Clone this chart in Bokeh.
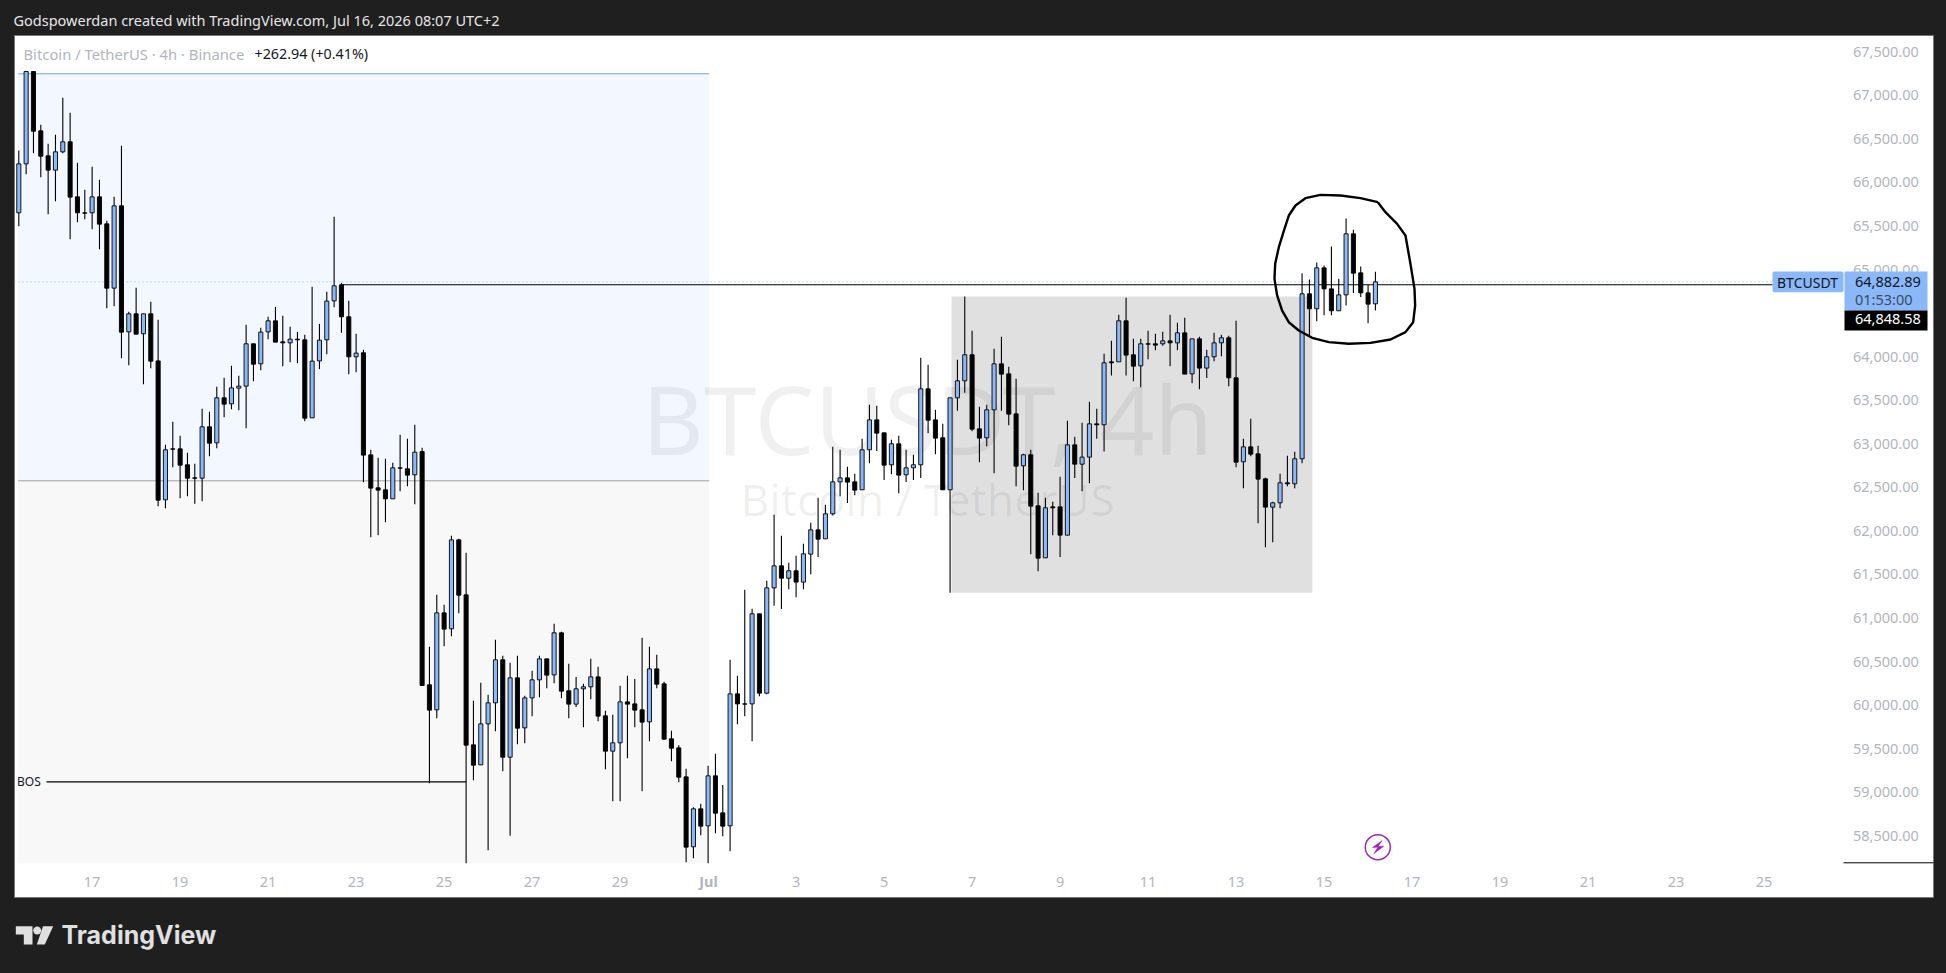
import math
from bokeh.plotting import figure
from bokeh.embed import file_html
from bokeh.resources import INLINE
from bokeh.core.properties import value
from bokeh.models import LinearAxis, FixedTicker, NumeralTickFormatter, Label, BoxAnnotation, PolyAnnotation, Range1d

opens = [65675,66237,67297,66616,66329,66165,66375,66490,65858,65675,65675,65858,65548,64810,65755,64308,64515,64286,64515,63975,
62380,62965,62965,62782,62632,62628,63218,63034,63551,63482,63662,63685,64171,63941,64308,64435,64194,64182,64224,64217,
63321,63975,64217,64664,64848,64481,64022,64068,62896,62518,62495,62391,62747,62736,62667,62934,60256,59969,61082,60899,
61920,61289,59567,59337,59808,60049,60543,59425,60336,59762,60106,60313,60554,60370,60853,60187,60034,60210,60233,60347,
59900,59494,59590,60060,60037,59969,59831,60439,60267,59636,59532,59199,58396,58832,58637,59211,58786,58637,60152,60037,
60037,61071,60160,61369,61622,61480,61565,61435,61756,62035,61932,62219,62586,62632,62586,62495,62954,63298,63149,62782,
63023,62667,62747,62782,63654,63298,63092,62495,63551,63746,64045,63195,63092,63413,63941,63826,63367,62770,62897,62311,
61714,62299,62299,61974,63011,62789,62870,63252,63241,63964,63964,64435,64045,63918,64171,64171,64171,64205,64182,64297,
63826,64228,63892,64022,64182,64240,63781,62816,62988,62908,62621,62296,62345,62575,62564,62851,64745,64573,65043,64802,
64550,64733,65434,64986,64756,64630]
highs = [66390,67297,67297,66685,66467,66570,66995,66823,66249,65939,66203,66054,65583,65858,66444,64538,64814,64515,64653,64446,
63011,63275,63114,62919,62793,63424,63390,63677,63780,63918,63803,64389,64171,64354,64481,64595,64492,64366,64308,64274,
64825,64400,64768,65629,64871,64664,64286,64102,62954,62862,62850,62805,63126,63080,63241,62977,60692,61289,61174,61966,
61932,61771,60072,60279,60141,60772,60589,60508,60589,60129,60416,60589,60554,60956,60864,60497,60347,60267,60554,60462,
59957,59911,60244,60359,60324,60795,60692,60600,60290,59728,59563,59291,58851,58889,59326,59463,59107,60543,60359,61346,
61128,61071,61450,62208,61967,61657,61737,61875,62116,62403,62322,62988,62954,62759,62678,63080,63471,63459,63149,63069,
63115,62954,62896,64010,63930,63413,63252,63551,63987,64714,64320,63448,63471,64113,64251,63907,63769,62908,62954,62460,
62403,62357,62644,63287,63103,63264,63505,63425,64056,64205,64504,64699,64228,64228,64320,64286,64309,64504,64412,64469,
64228,64251,64102,64297,64274,64263,64435,63080,63310,63000,62632,62357,62678,62885,62931,64982,64909,65105,65070,65288,
64917,65610,65480,65059,64848,64997]
lows = [65522,66119,66360,66084,65659,65809,66360,65372,65568,65602,65487,65258,64580,64603,64006,63926,64282,63708,63891,62307,
62284,62755,62399,62422,62334,62364,62881,62973,63329,63421,63409,63202,63742,63868,64224,64190,63914,63960,63949,63283,
63321,63880,64052,64592,64297,63822,63845,62582,61951,61974,62123,62391,62479,62537,62330,60248,59127,59873,60700,60814,
61078,58208,59161,59337,58357,59724,59264,58522,59574,59586,59896,60114,60217,60275,60102,59873,60000,59770,60091,59838,
59287,58920,58920,59414,59770,59035,59609,60217,59624,59379,59138,58220,58266,58530,58208,58553,58518,58346,59804,59896,
59609,60125,60148,61163,61125,61354,61262,61354,61526,61722,61932,62200,62422,62342,62433,62495,62801,62939,62606,62674,
62456,62583,62606,62629,63145,62904,62495,61312,63402,63608,63168,62812,62996,62686,63402,63237,62537,62491,61756,61561,
61714,61974,61722,61974,62629,62479,62571,63080,62935,63807,63964,63807,63742,63673,63995,64098,64148,63914,64098,63823,
63719,63650,63777,63972,64029,63685,62755,62514,62881,62112,61836,61894,62284,62537,62514,62801,64267,64431,64500,64500,
64550,64611,64753,64707,64408,64554]
closes = [66237,67297,66612,66325,66165,66375,66490,65855,65675,65671,65858,65545,64810,65755,64305,64515,64282,64515,63972,62376,
62954,62961,62778,62628,62628,63218,63030,63551,63478,63665,63685,64171,63937,64305,64435,64190,64182,64224,64217,63317,
63972,64213,64661,64837,64481,64022,64064,62893,62514,62491,62391,62747,62743,62663,62927,60248,59965,61082,60895,61920,
61285,59563,59333,59808,60049,60543,59425,60336,59758,60106,60313,60554,60367,60853,60183,60034,60210,60233,60347,59896,
59494,59590,60060,60034,59965,59827,60439,60263,59632,59528,59195,58392,58832,58633,59211,58782,58633,60152,60037,60034,
61071,60160,61369,61622,61480,61565,61435,61760,62035,61928,62219,62586,62632,62583,62491,62954,63298,63145,62778,63023,
62663,62747,62782,63654,63294,63088,62495,63551,63746,64045,63191,63088,63413,63941,63823,63363,62766,62897,62307,61710,
62288,62288,61974,63011,62789,62870,63252,63241,63953,63953,64435,64041,63914,64171,64167,64156,64205,64182,64297,63823,
64228,63892,64022,64182,64240,63781,62812,62988,62904,62617,62296,62345,62575,62564,62851,64745,64573,65043,64802,64550,
64733,65434,64982,64756,64626,64883]

price_ticks = [58500,59000,59500,60000,60500,61000,61500,62000,62500,63000,63500,64000,64500,65000,65500,66000,66500,67000,67500]
time_tick_index = [10,22,34,46,58,70,82,94,106,118,130,142,154,166,178,190,202,214,226,238]
time_tick_labels = ["17","19","21","23","25","27","29","","3","5","7","9","11","13","15","17","19","21","23","25"]

circle_index = [185.33,182.96,180.24,177.51,175.46,174.10,173.19,172.60,171.83,171.33,171.24,171.60,172.28,173.19,174.55,176.37,178.65,181.37,184.33,187.06,189.10,190.15,190.42,190.33,189.78,189.10,187.96,186.37,185.33]
circle_price = [65797,65843,65874,65881,65843,65759,65644,65491,65280,65089,64917,64726,64553,64419,64324,64240,64190,64171,64182,64220,64305,64419,64611,64802,65089,65414,65548,65682,65797]

last_price = 64882.89
prev_level = 64848.58
bos_level = 59142
zone_top, zone_mid, zone_bottom = 67271, 62598, 58208
box_top, box_bottom = 64714, 61312
zone_right, box_left, box_right = 94.15, 127.2, 176.4

DARK = "#1f1f1f"
UP = "#8ab8f8"
FONT = "Noto Sans"

def X(px):
    return (px - 18.3) / 7.333
def Y(py):
    return last_price - (py - 281.3) / 0.0871

p = figure(width=1930, height=957, output_backend="svg", toolbar_location=None, tools="",
           x_range=(X(8), X(1938)), y_range=(Y(965), Y(8)),
           x_axis_location=None, y_axis_location=None,
           min_border_left=0, min_border_right=0, min_border_top=0, min_border_bottom=0,
           background_fill_color=DARK, border_fill_color=DARK, outline_line_color=None)
p.grid.visible = False
p.extra_y_ranges["price_scale"] = Range1d(start=Y(967), end=Y(10))

# chart pane
p.quad(left=[X(14)], right=[X(1933)], top=[Y(35)], bottom=[Y(897)], fill_color="#ffffff", line_color="#787878", line_width=1)

# zones
p.quad(left=[-0.08], right=[zone_right], top=[zone_top], bottom=[zone_mid], fill_color="#f3f7ff", line_color=None)
p.quad(left=[-0.08], right=[zone_right], top=[zone_mid], bottom=[zone_bottom], fill_color="#f8f8f8", line_color=None)
p.segment(x0=[-0.08], x1=[zone_right], y0=[zone_top], y1=[zone_top], line_color="#6ea3ea", line_width=1)
p.segment(x0=[-0.08], x1=[zone_right], y0=[zone_mid], y1=[zone_mid], line_color="#a0a0a0", line_width=1)
p.quad(left=[box_left], right=[box_right], top=[box_top], bottom=[box_bottom], fill_color="#e0e0e0", line_color=None)

# watermark
p.text(x=[X(927)], y=[Y(417)], text=["BTCUSDT, 4h"], text_align="center", text_baseline="middle",
       text_font=value(FONT), text_font_size="95px", text_color="#000000", text_alpha=0.06)
p.text(x=[X(927)], y=[Y(498)], text=["Bitcoin / TetherUS"], text_align="center", text_baseline="middle",
       text_font=value(FONT), text_font_size="44.5px", text_color="#000000", text_alpha=0.06)

# price lines
p.line(x=[X(14), X(1772)], y=[last_price, last_price], line_color="#8fb8f0", line_width=1, line_dash="1 3")
p.line(x=[44, X(1772)], y=[prev_level, prev_level], line_color="#000000", line_width=1.1)
p.line(x=[X(46), 61], y=[bos_level, bos_level], line_color="#000000", line_width=1.1)

# candles
idx = list(range(len(opens)))
tops = [max(a, b) for a, b in zip(opens, closes)]
bots = [min(a, b) for a, b in zip(opens, closes)]
fills = [UP if c > o else "#000000" for o, c in zip(opens, closes)]
p.segment(x0=idx, x1=idx, y0=lows, y1=highs, line_color="#000000", line_width=1.1)
p.vbar(x=idx, width=0.56, top=tops, bottom=bots, fill_color=fills, line_color="#000000", line_width=0.9)

# hand drawn circle
p.line(x=circle_index, y=circle_price, line_color="#000000", line_width=2.4, line_join="round")

# separator at the foot of the price scale
p.line(x=[X(1843), X(1933)], y=[Y(862.3), Y(862.3)], line_color="#000000", line_width=1)

# signal icon
p.scatter(x=[X(1377.3)], y=[Y(846.7)], size=25, marker="circle", fill_color=None, line_color="#9c27b0", line_width=1.5)
bolt_x = [1381.7, 1372, 1377.3, 1373.3, 1383.3, 1377.7]
bolt_y = [840, 847, 846.7, 853.3, 845.7, 845.7]
p.patch(x=[X(v) for v in bolt_x], y=[Y(v) for v in bolt_y], fill_color="#9c27b0", line_color="#9c27b0", line_width=0.5)

# axes
yax = LinearAxis(fixed_location=X(1846.5), y_range_name="price_scale", ticker=FixedTicker(ticks=price_ticks),
                 formatter=NumeralTickFormatter(format="0,0.00"))
yax.axis_line_color = None
yax.major_tick_line_color = None
yax.minor_tick_line_color = None
yax.major_label_standoff = 0
yax.major_label_text_color = "#b2b5be"
yax.major_label_text_font = FONT
yax.major_label_text_font_size = "14.5px"
p.add_layout(yax, "right")

xax = LinearAxis(fixed_location=Y(862.7), ticker=FixedTicker(ticks=time_tick_index))
xax.major_label_overrides = dict(zip(time_tick_index, time_tick_labels))
xax.axis_line_color = None
xax.major_tick_line_color = None
xax.minor_tick_line_color = None
xax.major_label_standoff = 8
xax.major_label_text_color = "#b2b5be"
xax.major_label_text_font = FONT
xax.major_label_text_font_size = "14.5px"
p.add_layout(xax, "below")

def label(text, px, py, color, size, align="left", style="normal", baseline="middle", font=FONT):
    p.add_layout(Label(x=X(px), y=Y(py), text=text, text_color=color, text_font_size=size,
                       text_align=align, text_baseline=baseline, text_font_style=style, text_font=font))

def box(l, r, t, b, color, radius=0):
    p.add_layout(BoxAnnotation(left=X(l), right=X(r), top=Y(t), bottom=Y(b), fill_color=color, fill_alpha=1,
                               line_color=None, border_radius=radius))

label("Jul", 708, 880, "#b2b5be", "14.5px", "center", "bold")

box(1772, 1843, 271, 291.7, UP, 2)
box(1844, 1927, 271, 310, UP)
box(1844, 1927, 310, 330, "#000000")
label("BTCUSDT", 1807, 281.5, "#131722", "14px", "center")
label("64,882.89", 1854.5, 281.5, "#131722", "14.5px")
label("01:53:00", 1854.5, 298.5, "#3c4a5e", "14.5px")
label("64,848.58", 1854.5, 318.5, "#ffffff", "14.5px")

label("Godspowerdan created with TradingView.com, Jul 16, 2026 08:07 UTC+2", 13, 19.5, "#e6e6e6", "14.5px")
label("Bitcoin / TetherUS \u00b7 4h \u00b7 Binance", 23, 53, "#b2b5be", "14.8px")
label("+262.94 (+0.41%)", 254, 53, "#131722", "14.3px")
label("BOS", 16.5, 780.7, "#131722", "12px")
label("TradingView", 61, 934.5, "#e0e0e0", "25px", "left", "bold", "middle", "Inter")

# logo
def poly(pts, color="#e0e0e0"):
    p.add_layout(PolyAnnotation(xs=[X(a) for a, _ in pts], ys=[Y(b) for _, b in pts], fill_color=color, fill_alpha=1,
                                line_color=None))
poly([(15.3, 925.7), (32, 925.7), (32, 944), (23.3, 944), (23.3, 934), (15.3, 934)])
poly([(42.5, 925.7), (52.7, 925.7), (44.3, 944), (36.3, 944)])
poly([(36.7 + 4 * math.cos(t * math.pi / 8), 930 + 4 * math.sin(t * math.pi / 8)) for t in range(16)])

html = file_html(p, INLINE)
html = html.replace("<head>", "<head><style>html,body{background:#1f1f1f !important;} body{padding:8px !important;overflow:hidden;}</style>", 1)
open("out.html", "w").write(html)
